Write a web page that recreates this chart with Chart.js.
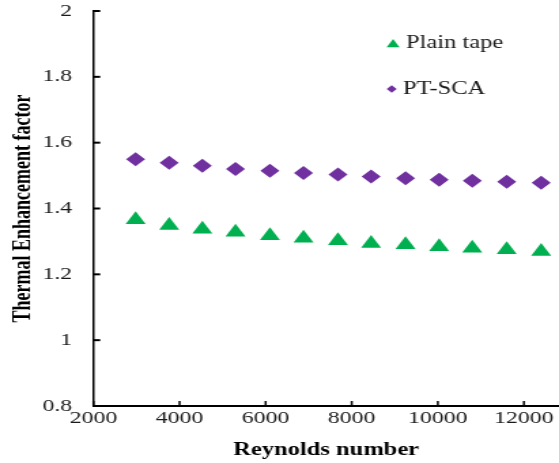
<!DOCTYPE html>
<html><head><meta charset="utf-8">
<script src="https://cdn.jsdelivr.net/npm/chart.js@4/dist/chart.umd.min.js"></script>
<style>
html,body{margin:0;padding:0;overflow:hidden;background:#fff;width:559px;height:463px}
#c{display:block;transform:scaleX(1.3601);transform-origin:0 0;}
</style></head><body>
<canvas id="c" width="411" height="463"></canvas>
<script>
const reynolds = [2980, 3760, 4530, 5300, 6100, 6880, 7680, 8450, 9250, 10030, 10800, 11600, 12400];
const plainTape = [1.366, 1.348, 1.337, 1.328, 1.317, 1.310, 1.302, 1.294, 1.290, 1.284, 1.279, 1.275, 1.269];
const ptSca = [1.550, 1.539, 1.530, 1.520, 1.515, 1.508, 1.503, 1.497, 1.492, 1.487, 1.484, 1.481, 1.478];
const seriesNames = ['Plain tape', 'PT-SCA'];
const xTickValues = [2000, 4000, 6000, 8000, 10000, 12000];
const yTickValues = [0.8, 1, 1.2, 1.4, 1.6, 1.8, 2];
const xTitle = 'Reynolds number';
const yTitle = 'Thermal Enhancement factor';

const FONT = "'Liberation Serif', 'Times New Roman', serif";
const GREEN = '#00B050', PURPLE = '#7030A0';

const innerTicksAndLegend = {
  id: 'innerTicksAndLegend',
  afterDraw(chart) {
    const ctx = chart.ctx, a = chart.chartArea;
    const xs = chart.scales.x, ys = chart.scales.y;
    ctx.save();
    ctx.strokeStyle = '#000';
    ctx.lineWidth = 2;
    ys.ticks.forEach(t => {
      const py = ys.getPixelForValue(t.value);
      ctx.beginPath(); ctx.moveTo(a.left, py); ctx.lineTo(a.left + 5, py); ctx.stroke();
    });
    ctx.lineWidth = 1.5;
    xs.ticks.forEach(t => {
      const px = xs.getPixelForValue(t.value);
      ctx.beginPath(); ctx.moveTo(px, a.bottom); ctx.lineTo(px, a.bottom - 5); ctx.stroke();
    });
    // legend
    ctx.font = "18px " + FONT;
    ctx.textBaseline = 'middle';
    ctx.textAlign = 'left';
    const ds = chart.data.datasets;
    ctx.fillStyle = ds[0].backgroundColor;
    let cx = 289, cy = 44.4, r = 5.5;
    ctx.beginPath();
    ctx.moveTo(cx, cy - r);
    ctx.lineTo(cx + r * Math.sin(2 * Math.PI / 3), cy - r * Math.cos(2 * Math.PI / 3));
    ctx.lineTo(cx + r * Math.sin(4 * Math.PI / 3), cy - r * Math.cos(4 * Math.PI / 3));
    ctx.closePath(); ctx.fill();
    ctx.fillStyle = '#1a1a1a';
    ctx.fillText(ds[0].label, 298.5, 43);
    ctx.fillStyle = ds[1].backgroundColor;
    cx = 288; cy = 89; r = 3.7;
    ctx.beginPath();
    ctx.moveTo(cx - r, cy); ctx.lineTo(cx, cy - r); ctx.lineTo(cx + r, cy); ctx.lineTo(cx, cy + r);
    ctx.closePath(); ctx.fill();
    ctx.fillStyle = '#1a1a1a';
    ctx.fillText(ds[1].label, 296.3, 89);
    ctx.restore();
  }
};

new Chart(document.getElementById('c'), {
  type: 'scatter',
  data: {
    datasets: [
      {
        label: seriesNames[0],
        data: reynolds.map((x, i) => ({x: x, y: plainTape[i]})),
        pointStyle: 'triangle', pointRadius: 8.5, backgroundColor: GREEN,
        borderColor: GREEN, borderWidth: 0, showLine: false
      },
      {
        label: seriesNames[1],
        data: reynolds.map((x, i) => ({x: x, y: ptSca[i]})),
        pointStyle: 'rectRot', pointRadius: 7, backgroundColor: PURPLE,
        borderColor: PURPLE, borderWidth: 0, showLine: false
      }
    ]
  },
  options: {
    responsive: false,
    devicePixelRatio: 1,
    animation: false,
    events: [],
    layout: {autoPadding: false, padding: {top: 11, right: 0, bottom: 0, left: 0}},
    plugins: {legend: {display: false}, tooltip: {enabled: false}},
    scales: {
      x: {
        type: 'linear', min: 2000, max: 12815,
        afterBuildTicks: s => { s.ticks = xTickValues.map(v => ({value: v})); },
        afterFit: s => { s.height = 57; s.paddingLeft = 0; s.paddingRight = 0; },
        grid: {display: false, drawTicks: false},
        border: {display: true, color: '#000', width: 2},
        ticks: {
          font: {family: FONT, size: 17.5}, color: '#1a1a1a', padding: 1.5,
          maxRotation: 0, autoSkip: false, callback: v => String(v)
        },
        title: {
          display: true, text: xTitle, color: '#000',
          font: {family: FONT, size: 18, weight: 'bold'},
          padding: {top: 0, bottom: 2}
        }
      },
      y: {
        type: 'linear', min: 0.8, max: 2,
        afterBuildTicks: s => { s.ticks = yTickValues.map(v => ({value: v})); },
        afterFit: s => { s.width = 68.7; s.paddingTop = 0; s.paddingBottom = 0; },
        grid: {display: false, drawTicks: false},
        border: {display: true, color: '#000', width: 1.5},
        ticks: {
          font: {family: FONT, size: 17.5}, color: '#1a1a1a', padding: 15.7,
          autoSkip: false, callback: v => String(v)
        },
        title: {
          display: true, text: yTitle, color: '#000',
          font: {family: FONT, size: 18, weight: 'bold'},
          padding: {top: 6.5, bottom: 0}
        }
      }
    }
  },
  plugins: [innerTicksAndLegend]
});
</script>
</body></html>
